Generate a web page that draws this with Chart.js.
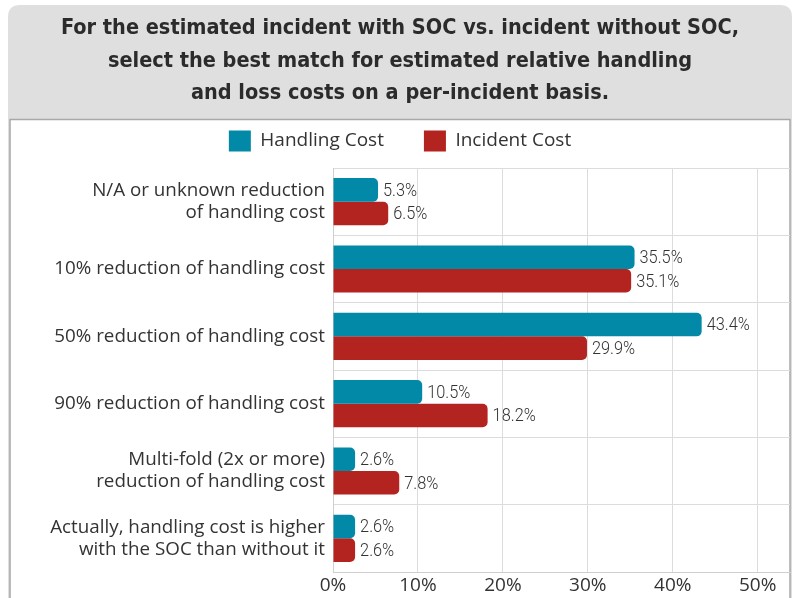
<!DOCTYPE html>
<html>
<head>
<meta charset="utf-8">
<script src="https://cdn.jsdelivr.net/npm/chart.js@4"></script>
<style>
html,body{margin:0;padding:0;background:#fff;}
#wrap{position:relative;width:796px;height:598px;}
canvas{display:block;}
</style>
</head>
<body>
<div id="wrap"><canvas id="c" width="796" height="598"></canvas></div>
<script>
const titleLines = [
  "For the estimated incident with SOC vs. incident without SOC,",
  "select the best match for estimated relative handling",
  "and loss costs on a per-incident basis."
];
const categories = [
  ["N/A or unknown reduction", "of handling cost"],
  "10% reduction of handling cost",
  "50% reduction of handling cost",
  "90% reduction of handling cost",
  ["Multi-fold (2x or more)", "reduction of handling cost"],
  ["Actually, handling cost is higher", "with the SOC than without it"]
];
const handlingCost = [5.3, 35.5, 43.4, 10.5, 2.6, 2.6];
const incidentCost = [6.5, 35.1, 29.9, 18.2, 7.8, 2.6];
const tickValues = [0, 10, 20, 30, 40, 50];

const BLUE = "#0389a8";
const RED = "#b3231f";
const SANS = "'Open Sans', 'Noto Sans', sans-serif";
const COND = "'DejaVu Sans Condensed', 'DejaVu Sans', sans-serif";
const LABEL = "Roboto, 'DejaVu Sans Condensed', sans-serif";

const backgroundPlugin = {
  id: 'bg',
  beforeDraw(chart) {
    const ctx = chart.ctx;
    ctx.save();
    ctx.fillStyle = '#fff';
    ctx.fillRect(0, 0, chart.width, chart.height);
    ctx.fillStyle = '#dfdfdf';
    const x = 8, y = 5, w = 784, h = 620, r = 12;
    ctx.beginPath();
    ctx.moveTo(x + r, y);
    ctx.lineTo(x + w - r, y);
    ctx.quadraticCurveTo(x + w, y, x + w, y + r);
    ctx.lineTo(x + w, y + h);
    ctx.lineTo(x, y + h);
    ctx.lineTo(x, y + r);
    ctx.quadraticCurveTo(x, y, x + r, y);
    ctx.closePath();
    ctx.fill();
    ctx.fillStyle = '#fff';
    ctx.fillRect(10, 119, 780, 480);
    ctx.strokeStyle = '#a8a8a8';
    ctx.lineWidth = 1.5;
    ctx.strokeRect(10, 119.5, 780, 480);
    ctx.restore();
  }
};

const valueLabelPlugin = {
  id: 'vals',
  afterDatasetsDraw(chart) {
    const ctx = chart.ctx;
    ctx.save();
    ctx.font = "300 19px " + LABEL;
    ctx.fillStyle = '#333';
    ctx.textAlign = 'left';
    ctx.textBaseline = 'middle';
    chart.data.datasets.forEach((ds, di) => {
      const meta = chart.getDatasetMeta(di);
      meta.data.forEach((bar, i) => {
        ctx.save();
        ctx.translate(bar.x + 5, bar.y + 1);
        ctx.scale(0.86, 1);
        ctx.fillText(ds.data[i].toFixed(1) + '%', 0, 0);
        ctx.restore();
      });
    });
    ctx.restore();
  }
};

new Chart(document.getElementById('c'), {
  type: 'bar',
  data: {
    labels: categories,
    datasets: [
      { label: 'Handling Cost', data: handlingCost, backgroundColor: BLUE },
      { label: 'Incident Cost', data: incidentCost, backgroundColor: RED }
    ]
  },
  options: {
    indexAxis: 'y',
    responsive: false,
    animation: false,
    devicePixelRatio: 1,
    layout: { padding: { left: 10, right: 6, top: 0, bottom: 0 } },
    datasets: {
      bar: { barPercentage: 1.0, categoryPercentage: 0.70, borderRadius: 5, borderSkipped: 'start' }
    },
    scales: {
      x: {
        type: 'linear',
        min: 0,
        max: 53.8,
        afterBuildTicks(scale) { scale.ticks = tickValues.map(v => ({ value: v })); },
        afterFit(scale) { scale.height = 26; },
        grid: { color: '#dcdcdc', drawTicks: false },
        border: { color: '#cfcfcf' },
        ticks: {
          padding: 2,
          color: '#333',
          font: { family: SANS, size: 19 },
          callback: v => v + '%'
        }
      },
      y: {
        afterFit(scale) { scale.width = 323; scale.paddingTop = 0; scale.paddingBottom = 0; },
        grid: { color: '#dcdcdc', drawTicks: false, offset: true },
        border: { color: '#cfcfcf' },
        ticks: {
          padding: 8,
          color: '#333',
          font: { family: SANS, size: 18.8, lineHeight: 1.17 }
        }
      }
    },
    plugins: {
      title: {
        display: true,
        text: titleLines,
        color: '#2b2b2b',
        font: { family: COND, size: 21.5, weight: 'bold', lineHeight: 1.512 },
        padding: { top: 12.5, bottom: -19.5 }
      },
      subtitle: {
        display: true,
        text: ' ',
        weight: 500,
        font: { size: 1, lineHeight: 1 },
        padding: { top: 5.5, bottom: 0 }
      },
      legend: {
        display: true,
        labels: {
          boxWidth: 22,
          boxHeight: 21,
          color: '#333',
          padding: 40,
          font: { family: SANS, size: 19 }
        }
      },
      tooltip: { enabled: false }
    }
  },
  plugins: [backgroundPlugin, valueLabelPlugin]
});
</script>
</body>
</html>
